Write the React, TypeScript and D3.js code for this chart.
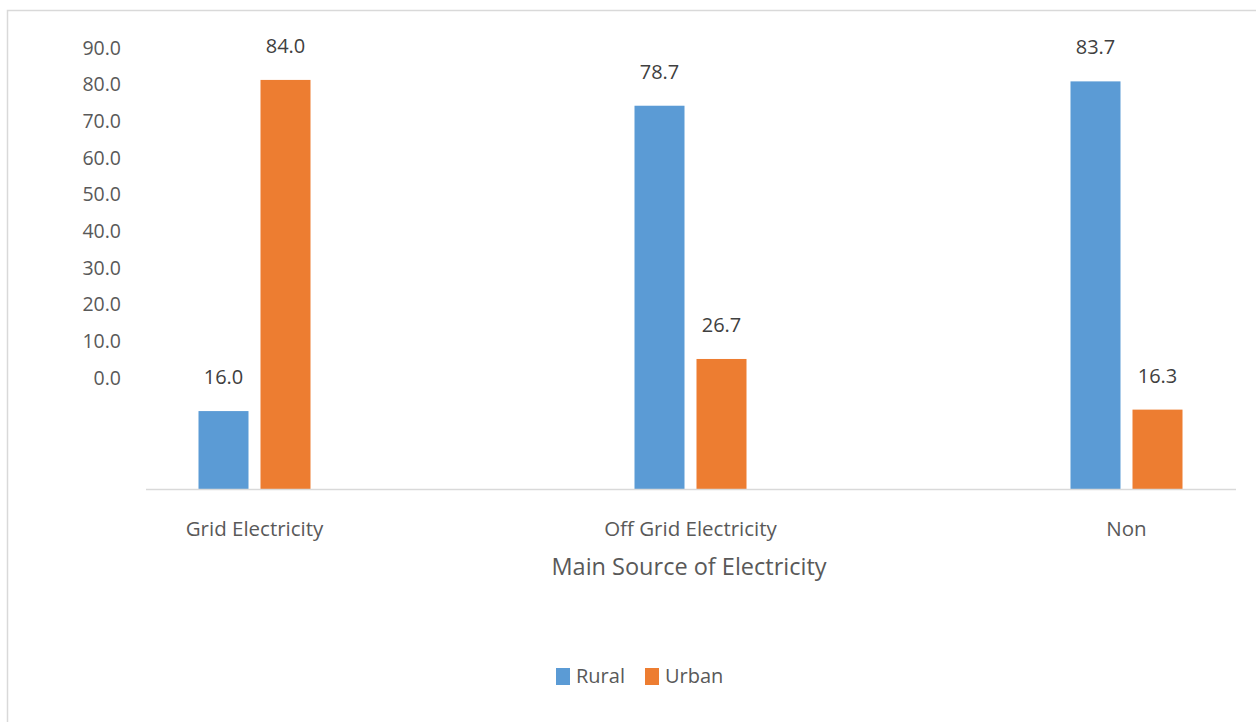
import React from "react";
import * as d3 from "d3";

const categories = ["Grid Electricity", "Off Grid Electricity", "Non"];
const seriesNames = ["Rural", "Urban"];
const rural = [16.0, 78.7, 83.7];
const urban = [84.0, 26.7, 16.3];
const tickLabels = [0, 10, 20, 30, 40, 50, 60, 70, 80, 90];
const colors = ["#5B9BD5", "#ED7D31"];

const W = 1256;
const H = 722;
const FONT = "'Open Sans', 'Noto Sans', sans-serif";

export default function App() {
  const x = d3.scaleBand<string>().domain(categories).range([36.5, 1344.5]);
  const barW = 50;
  const gap = 12;
  const y = d3.scaleLinear().domain([0, 100]).range([489, 2]);
  // tick labels (positioned as in the reference, offset from bars)
  const yLab = d3.scaleLinear().domain([0, 90]).range([378, 48]);
  const series = [rural, urban];

  return (
    <svg width={W} height={H} style={{ position: "absolute", left: 0, top: 0, background: "#fff" }} fontFamily={FONT}>
      <rect x={7.5} y={10.5} width={W + 10} height={H + 10} fill="#fff" stroke="#D9D9D9" strokeWidth={1.5} />
      {tickLabels.map((t) => (
        <text key={t} x={121} y={yLab(t)} dy="0.35em" textAnchor="end" fontSize={19.5} fill="#595959">
          {t.toFixed(1)}
        </text>
      ))}
      {categories.map((c, i) => {
        const cx = (x(c) as number) + x.bandwidth() / 2;
        return (
          <g key={c}>
            {series.map((s, j) => {
              const bx = j === 0 ? cx - gap / 2 - barW : cx + gap / 2;
              const v = s[i];
              return (
                <g key={j}>
                  <rect x={bx} y={y(v)} width={barW} height={y(0) - y(v)} fill={colors[j]} />
                  <text x={bx + barW / 2} y={y(v) - 34} dy="0.35em" textAnchor="middle" fontSize={20} fill="#404040">
                    {v.toFixed(1)}
                  </text>
                </g>
              );
            })}
            <text x={cx} y={529} dy="0.35em" textAnchor="middle" fontSize={20.5} fill="#595959">
              {c}
            </text>
          </g>
        );
      })}
      <line x1={146} x2={1236} y1={489.5} y2={489.5} stroke="#D9D9D9" strokeWidth={1.5} />
      <text x={689} y={567} dy="0.35em" textAnchor="middle" fontSize={23.5} fill="#595959">
        Main Source of Electricity
      </text>
      {seriesNames.map((n, j) => {
        const lx = j === 0 ? 556 : 645;
        return (
          <g key={n}>
            <rect x={lx} y={668} width={14} height={17} fill={colors[j]} />
            <text x={lx + 20} y={676} dy="0.35em" fontSize={20} fill="#595959">
              {n}
            </text>
          </g>
        );
      })}
    </svg>
  );
}
